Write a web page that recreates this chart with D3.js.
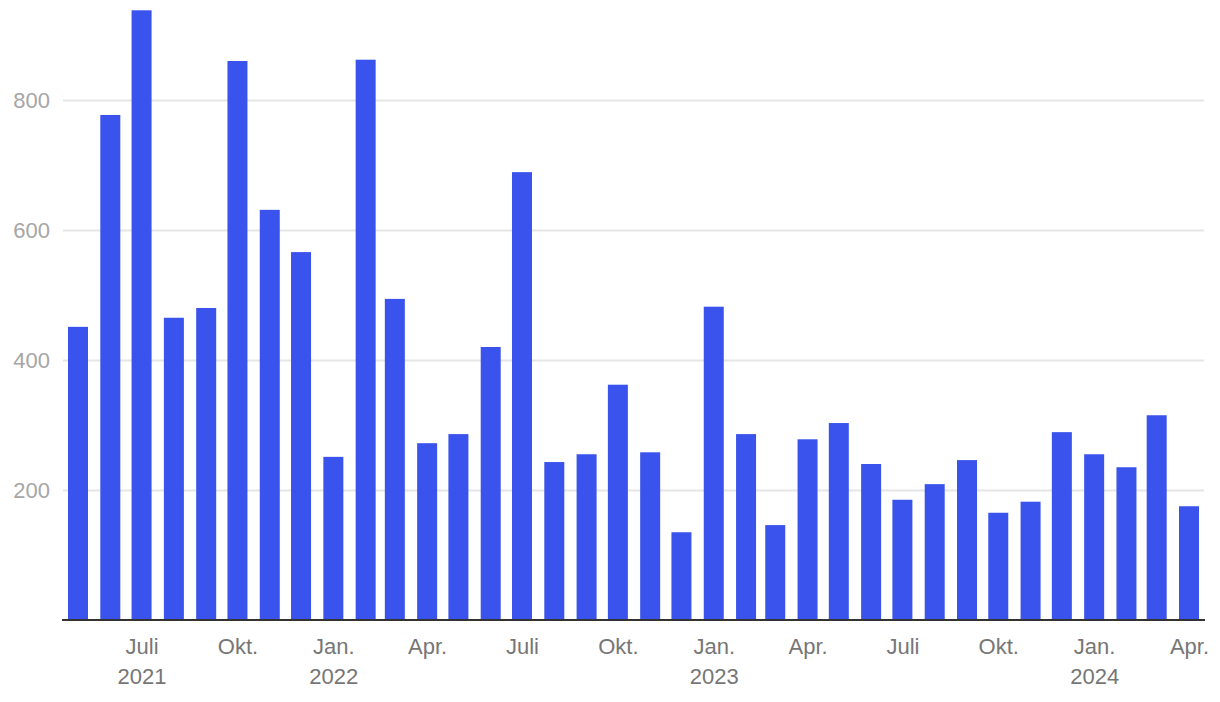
<!DOCTYPE html>
<html>
<head>
<meta charset="utf-8">
<script src="https://cdn.jsdelivr.net/npm/d3@7"></script>
<style>
  html, body { margin: 0; padding: 0; background: #fff; }
  svg { display: block; }
</style>
</head>
<body>
<svg id="chart" width="1220" height="702"></svg>
<script>
// ---- data ----
const months = [
  "2021-05","2021-06","2021-07","2021-08","2021-09","2021-10","2021-11","2021-12",
  "2022-01","2022-02","2022-03","2022-04","2022-05","2022-06","2022-07","2022-08",
  "2022-09","2022-10","2022-11","2022-12",
  "2023-01","2023-02","2023-03","2023-04","2023-05","2023-06","2023-07","2023-08",
  "2023-09","2023-10","2023-11","2023-12",
  "2024-01","2024-02","2024-03","2024-04"
];
const values = [
  451, 777, 938, 465, 480, 860, 631, 566,
  251, 862, 494, 272, 286, 420, 689, 243,
  255, 362, 258, 135,
  482, 286, 146, 278, 303, 240, 185, 209,
  246, 165, 182, 289,
  255, 235, 315, 175
];
const yTicks = [200, 400, 600, 800];
const xTickMonths = ["2021-07","2021-10","2022-01","2022-04","2022-07","2022-10",
                     "2023-01","2023-04","2023-07","2023-10","2024-01","2024-04"];
const xTickLabels = ["Juli","Okt.","Jan.","Apr.","Juli","Okt.",
                     "Jan.","Apr.","Juli","Okt.","Jan.","Apr."];
const xTickYears  = ["2021","","2022","","","",
                     "2023","","","","2024",""];

// ---- setup ----
const parse = d3.utcParse("%Y-%m");
const data = months.map((m, i) => ({ date: parse(m), value: values[i] }));

const plotLeft = 63, plotRight = 1204, baseY = 620, topY = 100;
const barW = 20;
const font = "'Liberation Sans', Arial, Helvetica, sans-serif";

const x = d3.scaleUtc()
  .domain([parse(months[0]), parse(months[months.length - 1])])
  .range([68, 1179]);
const y = d3.scaleLinear().domain([0, 800]).range([baseY, topY]);

const svg = d3.select("#chart");

// gridlines
const grid = svg.append("g")
  .attr("transform", `translate(${plotLeft},0)`)
  .call(d3.axisLeft(y).tickValues(yTicks).tickSize(-(plotRight - plotLeft)).tickFormat(""));
grid.select(".domain").remove();
grid.selectAll("line").attr("stroke", "#e6e6e6").attr("stroke-width", 2);

// y axis labels
const yAxis = svg.append("g")
  .attr("transform", `translate(${plotLeft},0)`)
  .call(d3.axisLeft(y).tickValues(yTicks).tickSize(0).tickPadding(13));
yAxis.select(".domain").remove();
yAxis.selectAll("text")
  .attr("dy", "0.36em")
  .attr("fill", "#a6a6a6")
  .style("font-family", font)
  .style("font-size", "22px");

// bars
svg.append("g").selectAll("rect")
  .data(data)
  .join("rect")
  .attr("x", d => x(d.date))
  .attr("width", barW)
  .attr("y", d => y(d.value))
  .attr("height", d => baseY - y(d.value))
  .attr("fill", "#3a53ec");

// baseline
svg.append("line")
  .attr("x1", plotLeft - 1).attr("x2", plotRight + 1)
  .attr("y1", baseY).attr("y2", baseY)
  .attr("stroke", "#333").attr("stroke-width", 2);

// x axis labels
const tickDates = xTickMonths.map(parse);
const xAxis = svg.append("g")
  .attr("transform", `translate(${barW / 2},${baseY})`)
  .call(d3.axisBottom(x).tickValues(tickDates).tickSize(0));
xAxis.select(".domain").remove();
xAxis.selectAll("text")
  .attr("y", 34)
  .attr("dy", null)
  .attr("fill", "#767676")
  .style("font-family", font)
  .style("font-size", "22px")
  .text(null)
  .each(function(d, i) {
    const t = d3.select(this);
    t.append("tspan").attr("x", 0).text(xTickLabels[i]);
    if (xTickYears[i]) t.append("tspan").attr("x", 0).attr("dy", 30).text(xTickYears[i]);
  });
</script>
</body>
</html>
